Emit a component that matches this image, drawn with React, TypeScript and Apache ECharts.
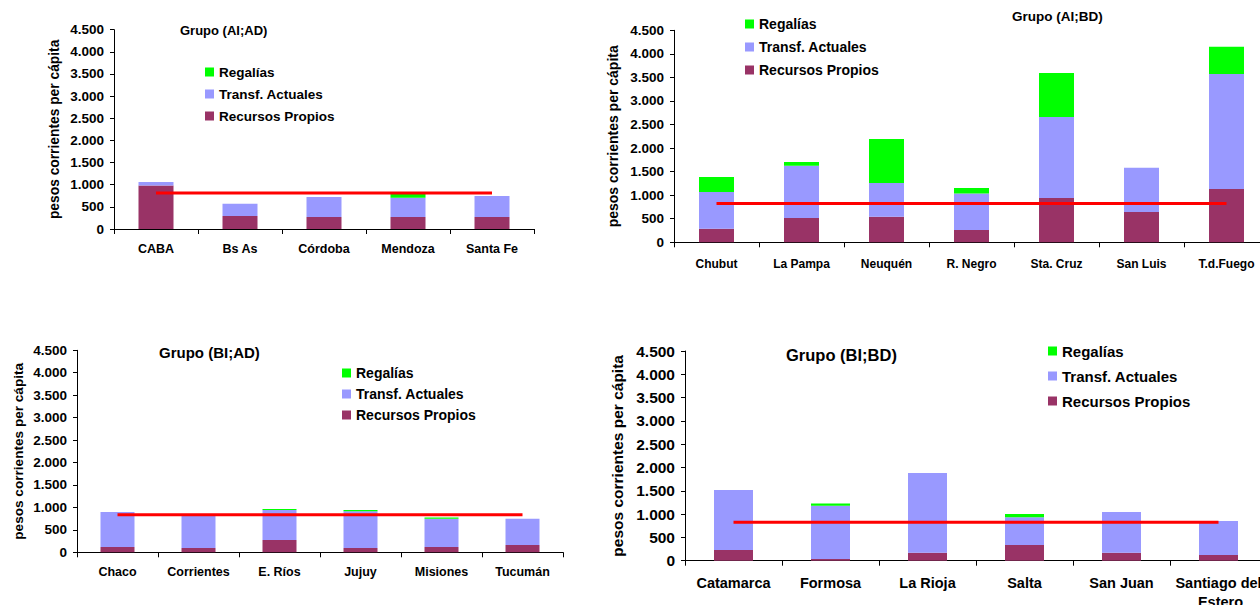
import { useEffect, useRef } from "react";
import * as echarts from "echarts";

// Series, stacked from the bottom up
const NAME_RP = "Recursos Propios";
const NAME_TA = "Transf. Actuales";
const NAME_REG = "Regalías";
const LEGEND_ORDER = [NAME_REG, NAME_TA, NAME_RP];

// Grupo (AI;AD)
const catAIAD = ["CABA", "Bs As", "Córdoba", "Mendoza", "Santa Fe"];
const rpAIAD = [980, 295, 270, 270, 270];
const taAIAD = [80, 275, 450, 437, 475];
const regAIAD = [0, 0, 0, 100, 0];
const avgAIAD = 815;

// Grupo (AI;BD)
const catAIBD = ["Chubut", "La Pampa", "Neuquén", "R. Negro", "Sta. Cruz", "San Luis", "T.d.Fuego"];
const rpAIBD = [285, 515, 540, 260, 940, 645, 1130];
const taAIBD = [785, 1110, 720, 775, 1720, 935, 2445];
const regAIBD = [315, 80, 935, 120, 935, 0, 575];
const avgAIBD = 825;

// Grupo (BI;AD)
const catBIAD = ["Chaco", "Corrientes", "E. Ríos", "Jujuy", "Misiones", "Tucumán"];
const rpBIAD = [120, 95, 275, 95, 120, 165];
const taBIAD = [780, 715, 670, 820, 625, 580];
const regBIAD = [0, 0, 20, 30, 30, 0];
const avgBIAD = 838;

// Grupo (BI;BD)
const catBIBD = ["Catamarca", "Formosa", "La Rioja", "Salta", "San Juan", "Santiago del Estero"];
const rpBIBD = [230, 35, 170, 335, 170, 120];
const taBIBD = [1285, 1145, 1710, 600, 875, 730];
const regBIBD = [0, 45, 0, 65, 0, 0];
const avgBIBD = 823;

const yTicksMax = 4500;
const yTicksStep = 500;
const yAxisName = "pesos corrientes per cápita";

const FONT = "'Liberation Sans', Arial, Helvetica, sans-serif";
const C_RP = "#993366";
const C_TA = "#9999FF";
const C_REG = "#00FF00";
const C_AVG = "#FF0000";

type Panel = {
  title: string;
  cats: string[];
  rp: number[];
  ta: number[];
  reg: number[];
  avg: number;
  left: number;
  top: number;
  width: number;
  height: number;
  barWidth: number;
  tickFs: number;
  catFs: number;
  catMargin: number;
  catLh: number;
  catWrap: number;
  nameFs: number;
  nameGap: number;
  titleFs: number;
  titleLeft: number;
  titleCy: number;
  legFs: number;
  legLeft: number;
  legCy: number;
  legStep: number;
};

const panels: Panel[] = [
  {
    title: "Grupo (AI;AD)", cats: catAIAD, rp: rpAIAD, ta: taAIAD, reg: regAIAD, avg: avgAIAD,
    left: 114, top: 29.7, width: 420, height: 199.3, barWidth: 35,
    tickFs: 13.5, catFs: 12.5, catMargin: 12.5, catLh: 15, catWrap: 80, nameFs: 13.8, nameGap: 53,
    titleFs: 13, titleLeft: 180, titleCy: 30.5,
    legFs: 13.5, legLeft: 205, legCy: 72, legStep: 22,
  },
  {
    title: "Grupo (AI;BD)", cats: catAIBD, rp: rpAIBD, ta: taAIBD, reg: regAIBD, avg: avgAIBD,
    left: 674, top: 30.3, width: 595, height: 212, barWidth: 35,
    tickFs: 13.5, catFs: 12, catMargin: 14, catLh: 15, catWrap: 84, nameFs: 14, nameGap: 54,
    titleFs: 13.5, titleLeft: 1012, titleCy: 16.5,
    legFs: 14, legLeft: 745, legCy: 24, legStep: 23,
  },
  {
    title: "Grupo (BI;AD)", cats: catBIAD, rp: rpBIAD, ta: taBIAD, reg: regBIAD, avg: avgBIAD,
    left: 77, top: 350.3, width: 486, height: 202, barWidth: 34,
    tickFs: 13.5, catFs: 12.5, catMargin: 12, catLh: 15, catWrap: 80, nameFs: 13.6, nameGap: 52,
    titleFs: 15, titleLeft: 159, titleCy: 352,
    legFs: 14, legLeft: 342, legCy: 373, legStep: 21,
  },
  {
    title: "Grupo (BI;BD)", cats: catBIBD, rp: rpBIBD, ta: taBIBD, reg: regBIBD, avg: avgBIBD,
    left: 685, top: 351, width: 582, height: 209.7, barWidth: 39,
    tickFs: 15.5, catFs: 14.5, catMargin: 12.5, catLh: 19, catWrap: 104, nameFs: 15.5, nameGap: 60,
    titleFs: 16.5, titleLeft: 786, titleCy: 355,
    legFs: 15, legLeft: 1048, legCy: 351, legStep: 25,
  },
];

function thousands(v: number): string {
  if (v < 1000) return String(v);
  return `${Math.floor(v / 1000)}.${String(v % 1000).padStart(3, "0")}`;
}

function buildOption() {
  const grid: any[] = [];
  const xAxis: any[] = [];
  const yAxis: any[] = [];
  const series: any[] = [];
  const legend: any[] = [];
  const title: any[] = [];

  panels.forEach((p, i) => {
    grid.push({
      left: p.left,
      top: p.top,
      width: p.width,
      height: p.height,
      containLabel: false,
      outerBoundsMode: "none",
    });

    xAxis.push({
      type: "category",
      gridIndex: i,
      data: p.cats,
      axisLine: { lineStyle: { color: "#000", width: 1 } },
      axisTick: { show: true, length: 5, lineStyle: { color: "#000" } },
      axisLabel: {
        interval: 0,
        color: "#000",
        fontFamily: FONT,
        fontWeight: "bold",
        fontSize: p.catFs,
        margin: p.catMargin,
        lineHeight: p.catLh,
        width: p.catWrap,
        overflow: "break",
      },
      splitLine: { show: false },
    });

    yAxis.push({
      type: "value",
      gridIndex: i,
      min: 0,
      max: yTicksMax,
      interval: yTicksStep,
      name: yAxisName,
      nameLocation: "middle",
      nameGap: p.nameGap,
      nameTextStyle: { color: "#000", fontFamily: FONT, fontWeight: "bold", fontSize: p.nameFs },
      axisLine: { show: true, lineStyle: { color: "#000", width: 1 } },
      axisTick: { show: true, length: 4, lineStyle: { color: "#000" } },
      axisLabel: {
        color: "#000",
        fontFamily: FONT,
        fontWeight: "bold",
        fontSize: p.tickFs,
        margin: 10,
        formatter: (v: number) => thousands(v),
      },
      splitLine: { show: false },
    });

    const stack = `stack${i}`;
    const bar = (name: string, data: number[], color: string) => ({
      type: "bar",
      name,
      xAxisIndex: i,
      yAxisIndex: i,
      stack,
      data,
      barWidth: p.barWidth,
      itemStyle: { color },
      emphasis: { disabled: true },
    });
    series.push(bar(NAME_RP, p.rp, C_RP));
    series.push(bar(NAME_TA, p.ta, C_TA));
    series.push(bar(NAME_REG, p.reg, C_REG));
    series.push({
      type: "line",
      name: "Promedio",
      xAxisIndex: i,
      yAxisIndex: i,
      data: p.cats.map(() => p.avg),
      showSymbol: false,
      lineStyle: { color: C_AVG, width: 3 },
      z: 5,
    });

    const legLh = Math.round(p.legFs + 3);
    legend.push({
      data: LEGEND_ORDER,
      orient: "vertical",
      left: p.legLeft,
      top: p.legCy - legLh / 2,
      padding: 0,
      icon: "rect",
      itemWidth: 9,
      itemHeight: 9,
      itemGap: p.legStep - legLh,
      selectedMode: false,
      textStyle: { color: "#000", fontFamily: FONT, fontWeight: "bold", fontSize: p.legFs, lineHeight: legLh },
    });

    const tLh = Math.round(p.titleFs + 3);
    title.push({
      text: p.title,
      left: p.titleLeft,
      top: p.titleCy - tLh / 2,
      padding: 0,
      textStyle: { color: "#000", fontFamily: FONT, fontWeight: "bold", fontSize: p.titleFs, lineHeight: tLh },
    });
  });

  return {
    animation: false,
    backgroundColor: "#fff",
    textStyle: { fontFamily: FONT },
    title,
    legend,
    grid,
    xAxis,
    yAxis,
    series,
  };
}

export default function App() {
  const ref = useRef<HTMLDivElement>(null);
  useEffect(() => {
    if (!ref.current) return;
    const chart = echarts.init(ref.current, undefined, { renderer: "svg" });
    chart.setOption(buildOption() as any);
    return () => chart.dispose();
  }, []);
  return (
    <div
      ref={ref}
      style={{ position: "absolute", left: 0, top: 0, width: 1260, height: 605, background: "#fff" }}
    />
  );
}
